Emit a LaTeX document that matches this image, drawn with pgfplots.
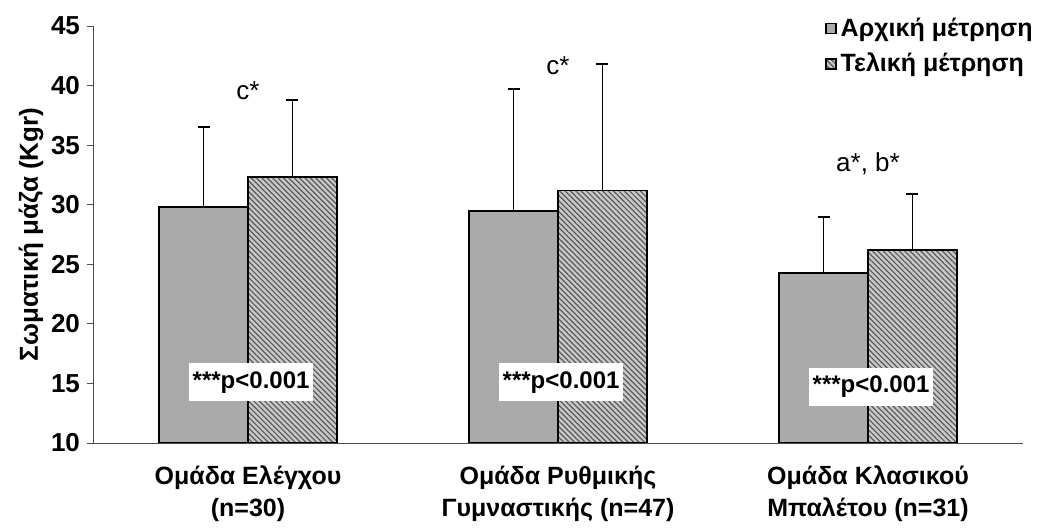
\documentclass[border=0pt]{standalone}
\usepackage{pgfplots}
\pgfplotsset{compat=1.18}
\usepackage{fontspec}
\setmainfont{Liberation Sans}
\usetikzlibrary{patterns.meta}

\definecolor{barA}{RGB}{170,170,170}
\definecolor{hatchbg}{RGB}{200,200,200}

% group centres at 1,2,3; only the upper half of the SD bar is drawn
\pgfplotstableread{
x   y     e
1   29.8  6.7
2   29.5  10.2
3   24.3  4.7
}\initial
\pgfplotstableread{
x   y     e
1   32.3  6.5
2   31.2  10.6
3   26.2  4.7
}\final

\tikzset{pbox/.style={fill=white, inner sep=0pt, minimum width=62pt, minimum height=19pt,
     font=\bfseries\fontsize{12}{14}\selectfont}}

\begin{document}
\begin{tikzpicture}
\path (-46.5pt,-39.5pt) rectangle (475pt,221.5pt);
\begin{axis}[
   at={(0,0)}, anchor=south west,
   scale only axis,
   width=465pt, height=208.5pt,
   xmin=0.5, xmax=3.5,
   ymin=10, ymax=45,
   ytick={10,15,...,45},
   xtick={1,2,3},
   xticklabels={{Ομάδα Ελέγχου\\(n=30)},{Ομάδα Ρυθμικής\\Γυμναστικής (n=47)},{Ομάδα Κλασικού\\Μπαλέτου (n=31)}},
   xticklabel style={align=center, font=\bfseries\fontsize{12.5}{16}\selectfont, yshift=-5pt},
   major x tick style={draw=none},
   extra x ticks={1.5,2.5,3.5},
   extra x tick labels={},
   extra x tick style={major tick length=3pt, tick align=outside, tick style={black!70, thin}},
   yticklabel style={font=\bfseries\fontsize{13}{15}\selectfont},
   /pgf/number format/assume math mode=true,
   axis x line=bottom, axis y line=left,
   axis line style={-, black!70, thin},
   y tick style={black!70, thin},
   major tick length=3pt, tick align=outside,
   ylabel={Σωματική μάζα (Kgr)},
   ylabel style={font=\bfseries\fontsize{13}{15}\selectfont, yshift=-3pt},
   ybar, bar width=0.287,
   legend style={at={(1.0215,1.04)}, anchor=north east, draw=none, fill=none,
      font=\bfseries\fontsize{12.5}{14}\selectfont, row sep=3pt},
   legend cell align=left,
   legend image code/.code={\draw[#1] (0pt,-2.5pt) rectangle (5pt,2.5pt);},
]
\addplot [bar shift=-0.1435, draw=black, line width=0.9pt, fill=barA,
   error bars/.cd, y dir=plus, y explicit,
   error bar style={black, line width=0.9pt},
   error mark options={rotate=90, black, mark size=3pt, line width=0.9pt}]
   table [x=x, y=y, y error=e] {\initial};
\addplot [bar shift=0.1435, draw=black, line width=0.9pt, fill=hatchbg,
   postaction={pattern={Lines[angle=-45, distance=1.9pt, line width=0.6pt]}, pattern color=black!65},
   error bars/.cd, y dir=plus, y explicit,
   error bar style={black, line width=0.9pt},
   error mark options={rotate=90, black, mark size=3pt, line width=0.9pt}]
   table [x=x, y=y, y error=e] {\final};
\legend{Αρχική μέτρηση, Τελική μέτρηση}

\node [font=\fontsize{13}{15}\selectfont] at (axis cs:1,39.6) {c*};
\node [font=\fontsize{13}{15}\selectfont] at (axis cs:2,41.7) {c*};
\node [font=\fontsize{13}{15}\selectfont] at (axis cs:3,33.4) {a*, b*};
\node [pbox] at (axis cs:1.01,15.1) {***p<0.001};
\node [pbox] at (axis cs:2.01,15.1) {***p<0.001};
\node [pbox] at (axis cs:3.01,14.7) {***p<0.001};
\end{axis}
\end{tikzpicture}
\end{document}
